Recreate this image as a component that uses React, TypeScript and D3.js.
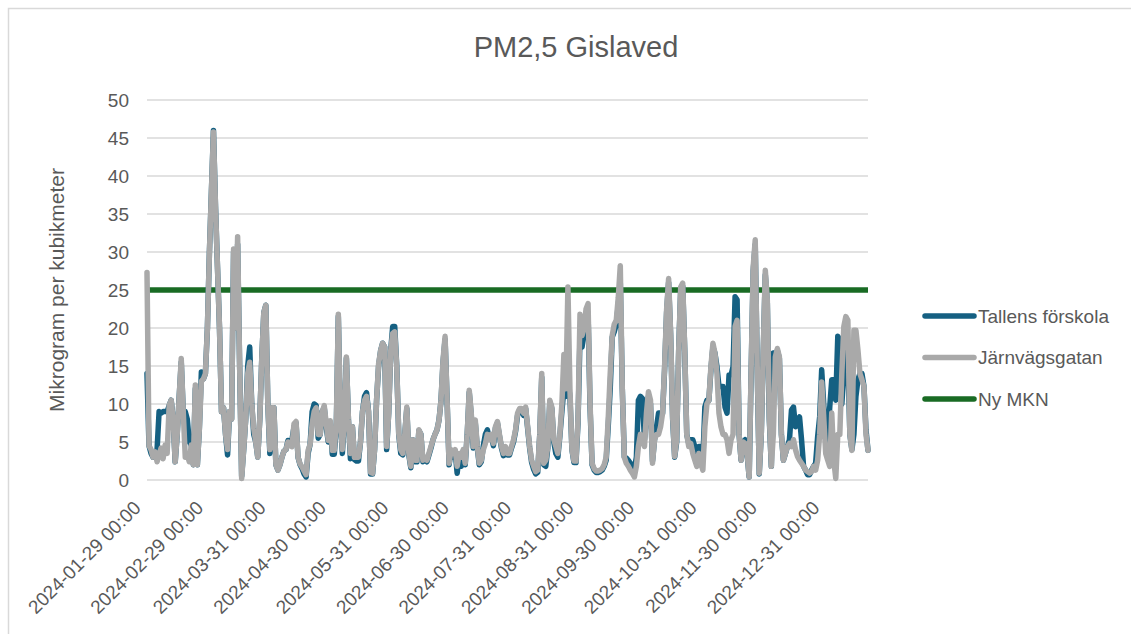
import React from "react";
import * as d3 from "d3";

const START_DATE = "2024-01-29";

// Tallens förskola (daily means, µg/m³)
const tallens: number[] = [
  14, 4.5, 3.5, 3, 3.5, 4, 9, 8.8, 9, 9,
  9, 9.8, 10.5, 8, 2.4, 6, 11, 15.5, 9, 9,
  8, 5, 4.6, 2, 12, 2, 6.8, 14.2, 13.3, 14,
  20, 30, 38, 46, 36, 28, 20, 9, 9.5, 6,
  3.3, 9, 8, 30, 20, 31, 15, 0.5, 4, 8,
  15, 17.5, 10, 6, 5, 3, 8, 16, 22, 23,
  10, 3.5, 9.5, 9.5, 2, 1.3, 2, 3, 3.8, 4,
  5.2, 5, 5.3, 7, 7.5, 3, 2, 1.5, 0.8, 0.4,
  3.5, 4.7, 9, 10, 9.8, 5.5, 6, 9, 9.5, 7,
  5, 7.5, 3.4, 3.4, 7, 21.5, 8, 3.5, 8, 16,
  8, 2.8, 7, 2.7, 2.5, 2.5, 5, 9, 11, 11.5,
  9, 0.8, 0.8, 4, 10.5, 15, 17, 18, 17.5, 4,
  8.8, 17, 20.2, 20.2, 15, 6, 3.5, 3.3, 6, 9.4,
  3.3, 1.6, 5.3, 2.4, 2.4, 6.5, 6, 2.4, 2.8, 2.4,
  3.3, 4.2, 5.3, 6, 6.6, 7.9, 10.5, 15.5, 18.5, 10.5,
  2, 3.8, 3, 3.8, 0.9, 3.2, 1.8, 3.8, 2, 6,
  11.5, 8.5, 4.2, 7.5, 4.2, 2, 2.4, 4.5, 6, 6.6,
  5.5, 5.8, 4.5, 6.8, 7.5, 5.8, 4.2, 3.2, 4.2, 3.3,
  3.3, 4.2, 5, 6.4, 8.5, 9.2, 9.2, 8.5, 9.4, 6.8,
  4.2, 2.3, 1.4, 0.8, 1, 5.8, 13.5, 2, 1.8, 4.2,
  10.3, 9.4, 5, 3.5, 3, 5.8, 9, 12, 11, 13,
  11, 4, 2.3, 2.3, 7.5, 18.8, 17.5, 19.3, 21, 22,
  9.5, 2, 1.3, 1, 1, 1.1, 1.3, 1.8, 2.6, 7,
  12, 18.8, 19.5, 20.5, 23, 26, 12, 3, 2.9, 2.6,
  2.2, 1.8, 1.5, 3, 10.5, 11, 10.7, 5.3, 8.5, 11,
  10, 2.5, 5.3, 7, 8.8, 8.8, 8.8, 14.5, 22, 26,
  19, 8, 3, 5, 17, 25, 25.5, 17, 6, 4.8,
  5.3, 5.3, 4.4, 3.5, 4.4, 4.4, 2.6, 9.6, 10.5, 10.5,
  14.5, 17.5, 16.7, 14.9, 12.3, 12.3, 12.3, 9.6, 8.8, 13.8,
  13.8, 14.9, 24.1, 23.7, 6, 2.6, 5, 5.3, 3.3, 0.4,
  14.5, 27.5, 31, 14.5, 0.8, 6, 16.8, 27, 23.3, 8,
  1.8, 16.7, 16.7, 17, 16, 6, 2.6, 3.5, 4.4, 5.3,
  9.2, 9.6, 7, 7.9, 8.3, 5.3, 1.8, 1.3, 0.7, 0.7,
  1.3, 1.8, 2.2, 5.7, 8.3, 14.5, 10, 6, 5, 9.6,
  13.2, 13.2, 10.5, 18.9, 18.4, 10, 14, 18, 16, 6,
  4, 6, 11, 13.2, 14, 14, 12.3, 6.6, 3.9,
];

// Järnvägsgatan (daily means, µg/m³)
const jarnvagsgatan: number[] = [
  27.3, 4.5, 4, 3, 3.7, 2.4, 3.3, 4.2, 2.8, 4.6,
  3.5, 9.8, 10.5, 8, 2.4, 6, 11, 16, 9, 3,
  3.3, 2.4, 4.6, 2, 12.5, 2, 6.8, 13, 13.3, 14,
  20, 30, 38, 45.8, 36, 28, 20, 9, 9.5, 6,
  4, 9, 8, 30.4, 20, 32, 15, 0.2, 4, 8,
  14, 15.5, 10, 6.8, 5, 3, 8, 16, 22, 23,
  10, 4, 9.5, 9.5, 2, 1.3, 2, 3, 3.8, 4,
  5, 4.5, 4.4, 7.4, 7.7, 3, 2.1, 1.7, 1.2, 0.7,
  3.9, 4.7, 7.4, 9, 9.5, 6, 6, 9, 9.8, 7.4,
  5.2, 7.8, 3.9, 3.9, 7.4, 21.8, 8, 4, 8, 16.2,
  8, 3.5, 7, 3, 3, 3, 5, 9, 10.5, 11,
  9, 1, 0.9, 4, 10.5, 15.3, 17, 18, 17.5, 4.4,
  8.8, 17, 19.3, 19.5, 14.9, 6.1, 4, 3.5, 6, 9.6,
  3.5, 1.8, 5.3, 2.6, 2.6, 6.6, 6, 2.6, 3, 2.6,
  3.5, 4.4, 5.3, 6, 6.6, 7.9, 10.5, 15.8, 18.9, 10.5,
  2.2, 4, 3.5, 4, 1.8, 3.5, 3, 4, 2.2, 6,
  11.8, 8.8, 4.4, 7.9, 4.4, 2.2, 2.6, 4, 4.8, 6,
  5.3, 6, 4.8, 7, 7.7, 6, 4.4, 3.5, 4.4, 3.5,
  3.5, 4.4, 5.3, 6.6, 8.8, 9.4, 9.4, 8.8, 9.6, 7,
  4.4, 2.6, 1.8, 1.1, 1.3, 6, 14, 2.2, 2.6, 4.4,
  10.5, 9.6, 5.3, 4.4, 3.5, 6, 10, 16.5, 12, 25.4,
  12, 4, 2.5, 2.5, 8, 21.8, 19, 20, 22.5, 23.2,
  10, 2.2, 1.5, 1.2, 1.2, 1.3, 1.5, 2, 3, 8,
  14, 19, 20.5, 21, 24, 28.2, 12, 3, 2.2, 1.8,
  1.3, 0.9, 0.4, 1.8, 4.4, 6, 5.3, 4.4, 8.8, 11.6,
  10.5, 2.2, 5.3, 6, 6, 7, 8.8, 14.9, 22.4, 26.5,
  19.3, 8.3, 3.1, 5.3, 17.1, 25.4, 25.9, 17.1, 6, 4.4,
  4.8, 3.5, 2.6, 1.8, 3.5, 2.2, 1.3, 7, 10, 10.5,
  14.9, 18, 16.7, 14, 8.8, 7, 6, 6, 5.3, 3.5,
  5.3, 6, 20.2, 21, 6, 2.6, 5, 4.8, 3.5, 0.4,
  14.9, 28, 31.6, 14.9, 0.9, 6, 17.1, 27.6, 23.7, 8.3,
  1.8, 6, 16.2, 17.3, 16.2, 6, 2.6, 3.5, 4.4, 4.8,
  4.4, 5.3, 4, 3.1, 2.6, 2.2, 1.8, 1.3, 1.1, 0.9,
  1.1, 1.8, 1.3, 2.6, 6, 12.9, 8.3, 3.5, 2.6, 1.8,
  8.8, 2.6, 0.2, 6, 6, 14, 20.2, 21.5, 21, 6,
  3.9, 19.7, 19.7, 17.1, 14, 13.2, 12.3, 6, 3.9,
];

const nyMKN = 25;

const xTickLabels: string[] = [
  "2024-01-29 00:00",
  "2024-02-29 00:00",
  "2024-03-31 00:00",
  "2024-04-30 00:00",
  "2024-05-31 00:00",
  "2024-06-30 00:00",
  "2024-07-31 00:00",
  "2024-08-31 00:00",
  "2024-09-30 00:00",
  "2024-10-31 00:00",
  "2024-11-30 00:00",
  "2024-12-31 00:00",
];

const yTicks: number[] = [0, 5, 10, 15, 20, 25, 30, 35, 40, 45, 50];

const seriesNames = ["Tallens förskola", "Järnvägsgatan", "Ny MKN"];
const seriesColors = ["#156082", "#A9A9A9", "#196B24"];

const TITLE = "PM2,5 Gislaved";
const Y_TITLE = "Mikrogram per kubikmeter";

const FONT = "'Liberation Sans', Arial, sans-serif";
const TEXT = "#595959";
const GRID = "#D9D9D9";

export default function App() {
  const W = 1131;
  const H = 634;
  const left = 147;
  const right = 868;
  const top = 100;
  const bottom = 480;

  const parseDay = d3.timeParse("%Y-%m-%d");
  const parseTick = d3.timeParse("%Y-%m-%d %H:%M");
  const start = parseDay(START_DATE) as Date;
  const dates = jarnvagsgatan.map((_, i) => d3.timeDay.offset(start, i));

  const x = d3
    .scaleTime()
    .domain([start, dates[dates.length - 1]])
    .range([left, right]);
  const y = d3.scaleLinear().domain([0, 50]).range([bottom, top]);

  const line = d3
    .line<number>()
    .x((_, i) => x(dates[i]))
    .y((v) => y(v))
    .curve(d3.curveLinear);

  const lw = 5.5;

  return (
    <svg
      width={W}
      height={H}
      style={{ position: "absolute", left: 0, top: 0, background: "#fff" }}
      fontFamily={FONT}
    >
      <rect x={0} y={0} width={W} height={H} fill="#fff" />
      <rect x={8.5} y={8.5} width={W + 20} height={H + 20} fill="none" stroke={GRID} strokeWidth={1.5} />

      <text x={576} y={57} textAnchor="middle" fontSize={29} fill={TEXT}>
        {TITLE}
      </text>

      {yTicks.map((t) => (
        <g key={t}>
          <line x1={left} x2={right} y1={y(t)} y2={y(t)} stroke={GRID} strokeWidth={1.5} />
          <text x={129} y={y(t)} dy="0.35em" textAnchor="end" fontSize={19} fill={TEXT}>
            {t}
          </text>
        </g>
      ))}

      <text
        transform={`translate(57,${(top + bottom) / 2}) rotate(-90)`}
        textAnchor="middle"
        dy="0.35em"
        fontSize={21}
        fill={TEXT}
      >
        {Y_TITLE}
      </text>

      {xTickLabels.map((lab) => {
        const tx = x(parseTick(lab) as Date);
        return (
          <text
            key={lab}
            transform={`translate(${tx - 5},${509}) rotate(-45)`}
            textAnchor="end"
            fontSize={19}
            fill={TEXT}
          >
            {lab}
          </text>
        );
      })}

      <line
        x1={left}
        x2={right}
        y1={y(nyMKN)}
        y2={y(nyMKN)}
        stroke={seriesColors[2]}
        strokeWidth={lw}
      />
      <path
        d={line(tallens) || ""}
        fill="none"
        stroke={seriesColors[0]}
        strokeWidth={lw}
        strokeLinejoin="round"
        strokeLinecap="round"
      />
      <path
        d={line(jarnvagsgatan) || ""}
        fill="none"
        stroke={seriesColors[1]}
        strokeWidth={lw}
        strokeLinejoin="round"
        strokeLinecap="round"
      />

      {seriesNames.map((name, i) => {
        const ly = 316 + i * 41.5;
        return (
          <g key={name}>
            <line x1={925} x2={974} y1={ly} y2={ly} stroke={seriesColors[i]} strokeWidth={lw} strokeLinecap="round" />
            <text x={978} y={ly} dy="0.35em" fontSize={19} fill={TEXT}>
              {name}
            </text>
          </g>
        );
      })}
    </svg>
  );
}
